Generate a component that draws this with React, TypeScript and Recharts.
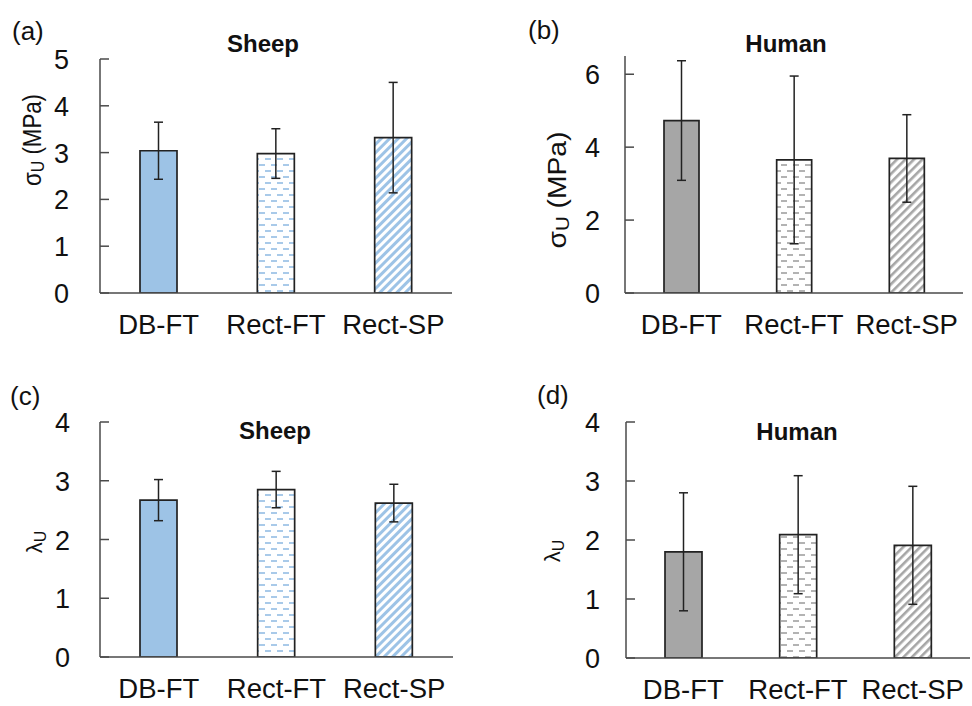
import React from 'react';
import { BarChart, Bar, XAxis, YAxis, ErrorBar, Cell } from 'recharts';

const categories = ['DB-FT', 'Rect-FT', 'Rect-SP'];

const sheepStress = [3.04, 2.98, 3.32];
const sheepStressErr = [0.61, 0.53, 1.18];
const humanStress = [4.73, 3.65, 3.69];
const humanStressErr = [1.64, 2.3, 1.2];
const sheepStretch = [2.67, 2.85, 2.62];
const sheepStretchErr = [0.35, 0.31, 0.32];
const humanStretch = [1.8, 2.09, 1.91];
const humanStretchErr = [1.0, 1.0, 1.0];

const sheepStressTicks = [0, 1, 2, 3, 4, 5];
const humanStressTicks = [0, 2, 4, 6];
const stretchTicks = [0, 1, 2, 3, 4];

const panelLetters = ['(a)', '(b)', '(c)', '(d)'];
const panelTitles = ['Sheep', 'Human', 'Sheep', 'Human'];

const FONT = '"Liberation Sans", Arial, sans-serif';
const BLUE = '#9DC3E6';
const GRAY = '#A6A6A6';
const AXIS = '#4a4a4a';
const EDGE = '#222';

const build = (vals: number[], errs: number[]) =>
  categories.map((name, i) => ({ name, value: vals[i], err: errs[i] }));

const YTick = (props: any) => {
  const { x, y, payload, gap } = props;
  return (
    <g>
      <line x1={x} x2={x + 9} y1={y} y2={y} stroke={AXIS} strokeWidth={1.5} />
      <text x={x - gap} y={y} dy={10} textAnchor="end" fontSize={27} fontFamily={FONT} fill="#111">
        {payload.value}
      </text>
    </g>
  );
};

const XTick = (props: any) => {
  const { x, y, payload } = props;
  return (
    <text x={x} y={y} dy={41} textAnchor="middle" fontSize={27.5} fontFamily={FONT} fill="#111">
      {payload.value}
    </text>
  );
};

type PanelProps = {
  data: { name: string; value: number; err: number }[];
  domain: [number, number];
  ticks: number[];
  fills: string[];
  left: number;
  top: number;
  width: number;
  height: number;
  margin: { top: number; right: number; bottom: number; left: number };
  barSize: number;
  gap: number;
};

const Panel = ({ data, domain, ticks, fills, left, top, width, height, margin, barSize, gap }: PanelProps) => (
  <div style={{ position: 'absolute', left, top, width, height }}>
    <BarChart width={width} height={height} data={data} margin={margin}>
      <XAxis
        dataKey="name"
        height={30}
        axisLine={{ stroke: AXIS, strokeWidth: 1.5 }}
        tickLine={false}
        tickSize={0}
        tickMargin={0}
        tick={<XTick />}
        interval={0}
      />
      <YAxis
        width={70}
        domain={domain}
        ticks={ticks}
        type="number"
        allowDataOverflow
        axisLine={{ stroke: AXIS, strokeWidth: 1.5 }}
        tickLine={false}
        tickSize={0}
        tickMargin={0}
        tick={<YTick gap={gap} />}
        interval={0}
      />
      <Bar dataKey="value" barSize={barSize} stroke={EDGE} strokeWidth={1.7} isAnimationActive={false}>
        {data.map((d, i) => (
          <Cell key={d.name} fill={fills[i]} />
        ))}
        <ErrorBar dataKey="err" width={4.5} stroke={EDGE} strokeWidth={1.5} direction="y" />
      </Bar>
    </BarChart>
  </div>
);

const RotLabel = ({ cx, cy, main, sub, rest, len, size, subSize }: any) => (
  <text
    x={cx}
    y={cy}
    transform={`rotate(-90 ${cx} ${cy})`}
    textAnchor="middle"
    dominantBaseline="central"
    fontSize={size}
    fontFamily={FONT}
    fill="#111"
    textLength={len}
    lengthAdjust={len ? 'spacingAndGlyphs' : undefined}
  >
    {main}
    <tspan dy={6} fontSize={subSize}>{sub}</tspan>
    {rest ? <tspan dy={-6}>{rest}</tspan> : null}
  </text>
);

export default function App() {
  const blueFills = [BLUE, 'url(#dashBlue)', 'url(#diagBlue)'];
  const grayFills = [GRAY, 'url(#dashGray)', 'url(#diagGray)'];
  return (
    <div style={{ position: 'absolute', left: 0, top: 0, width: 972, height: 706, background: '#fff', overflow: 'hidden' }}>
      <svg width={0} height={0} style={{ position: 'absolute' }}>
        <defs>
          <pattern id="dashBlue" width="12" height="12" patternUnits="userSpaceOnUse">
            <rect width="12" height="12" fill="#fff" />
            <line x1="1" y1="3" x2="7" y2="3" stroke="#8DB9E2" strokeWidth="1.5" />
            <line x1="7" y1="9" x2="12" y2="9" stroke="#8DB9E2" strokeWidth="1.5" />
            <line x1="0" y1="9" x2="1" y2="9" stroke="#8DB9E2" strokeWidth="1.5" />
          </pattern>
          <pattern id="dashGray" width="12" height="12" patternUnits="userSpaceOnUse">
            <rect width="12" height="12" fill="#fff" />
            <line x1="1" y1="3" x2="7" y2="3" stroke="#9a9a9a" strokeWidth="1.5" />
            <line x1="7" y1="9" x2="12" y2="9" stroke="#9a9a9a" strokeWidth="1.5" />
            <line x1="0" y1="9" x2="1" y2="9" stroke="#9a9a9a" strokeWidth="1.5" />
          </pattern>
          <pattern id="diagBlue" width="6" height="6" patternUnits="userSpaceOnUse" patternTransform="rotate(45)">
            <rect width="6" height="6" fill="#fff" />
            <rect width="3" height="6" fill={BLUE} />
          </pattern>
          <pattern id="diagGray" width="6" height="6" patternUnits="userSpaceOnUse" patternTransform="rotate(45)">
            <rect width="6" height="6" fill="#fff" />
            <rect width="2.6" height="6" fill={GRAY} />
          </pattern>
        </defs>
      </svg>

      <Panel
        data={build(sheepStress, sheepStressErr)}
        domain={[0, 5]}
        ticks={sheepStressTicks}
        fills={blueFills}
        left={0}
        top={0}
        width={470}
        height={360}
        margin={{ top: 59, right: 18, bottom: 37, left: 30 }}
        barSize={37}
        gap={31}
      />
      <Panel
        data={build(humanStress, humanStressErr)}
        domain={[0, 6.5]}
        ticks={humanStressTicks}
        fills={grayFills}
        left={486}
        top={0}
        width={486}
        height={360}
        margin={{ top: 56, right: 9, bottom: 37, left: 69 }}
        barSize={35}
        gap={25}
      />
      <Panel
        data={build(sheepStretch, sheepStretchErr)}
        domain={[0, 4]}
        ticks={stretchTicks}
        fills={blueFills}
        left={0}
        top={360}
        width={470}
        height={346}
        margin={{ top: 62, right: 17, bottom: 19, left: 30 }}
        barSize={37}
        gap={30}
      />
      <Panel
        data={build(humanStretch, humanStretchErr)}
        domain={[0, 4]}
        ticks={stretchTicks}
        fills={grayFills}
        left={486}
        top={360}
        width={486}
        height={346}
        margin={{ top: 62, right: 2, bottom: 18, left: 70 }}
        barSize={37}
        gap={26}
      />

      <svg width={972} height={706} style={{ position: 'absolute', left: 0, top: 0, pointerEvents: 'none' }}>
        <g fontFamily={FONT} fill="#111">
          <text x={12} y={40} fontSize={26}>{panelLetters[0]}</text>
          <text x={528} y={39} fontSize={26}>{panelLetters[1]}</text>
          <text x={10} y={405} fontSize={26}>{panelLetters[2]}</text>
          <text x={537} y={404} fontSize={26}>{panelLetters[3]}</text>

          <text x={263} y={52} fontSize={24} fontWeight="bold" textAnchor="middle">{panelTitles[0]}</text>
          <text x={786} y={52} fontSize={24} fontWeight="bold" textAnchor="middle">{panelTitles[1]}</text>
          <text x={275} y={439} fontSize={24} fontWeight="bold" textAnchor="middle">{panelTitles[2]}</text>
          <text x={797} y={440} fontSize={24} fontWeight="bold" textAnchor="middle">{panelTitles[3]}</text>
        </g>
        <RotLabel cx={32} cy={140} main="σ" sub="U" rest=" (MPa)" len={92} size={25} subSize={18} />
        <RotLabel cx={557} cy={190} main="σ" sub="U" rest=" (MPa)" len={117} size={25} subSize={18} />
        <RotLabel cx={34} cy={542} main="λ" sub="U" size={22} subSize={16} />
        <RotLabel cx={552} cy={551} main="λ" sub="U" size={22} subSize={16} />
      </svg>
    </div>
  );
}
